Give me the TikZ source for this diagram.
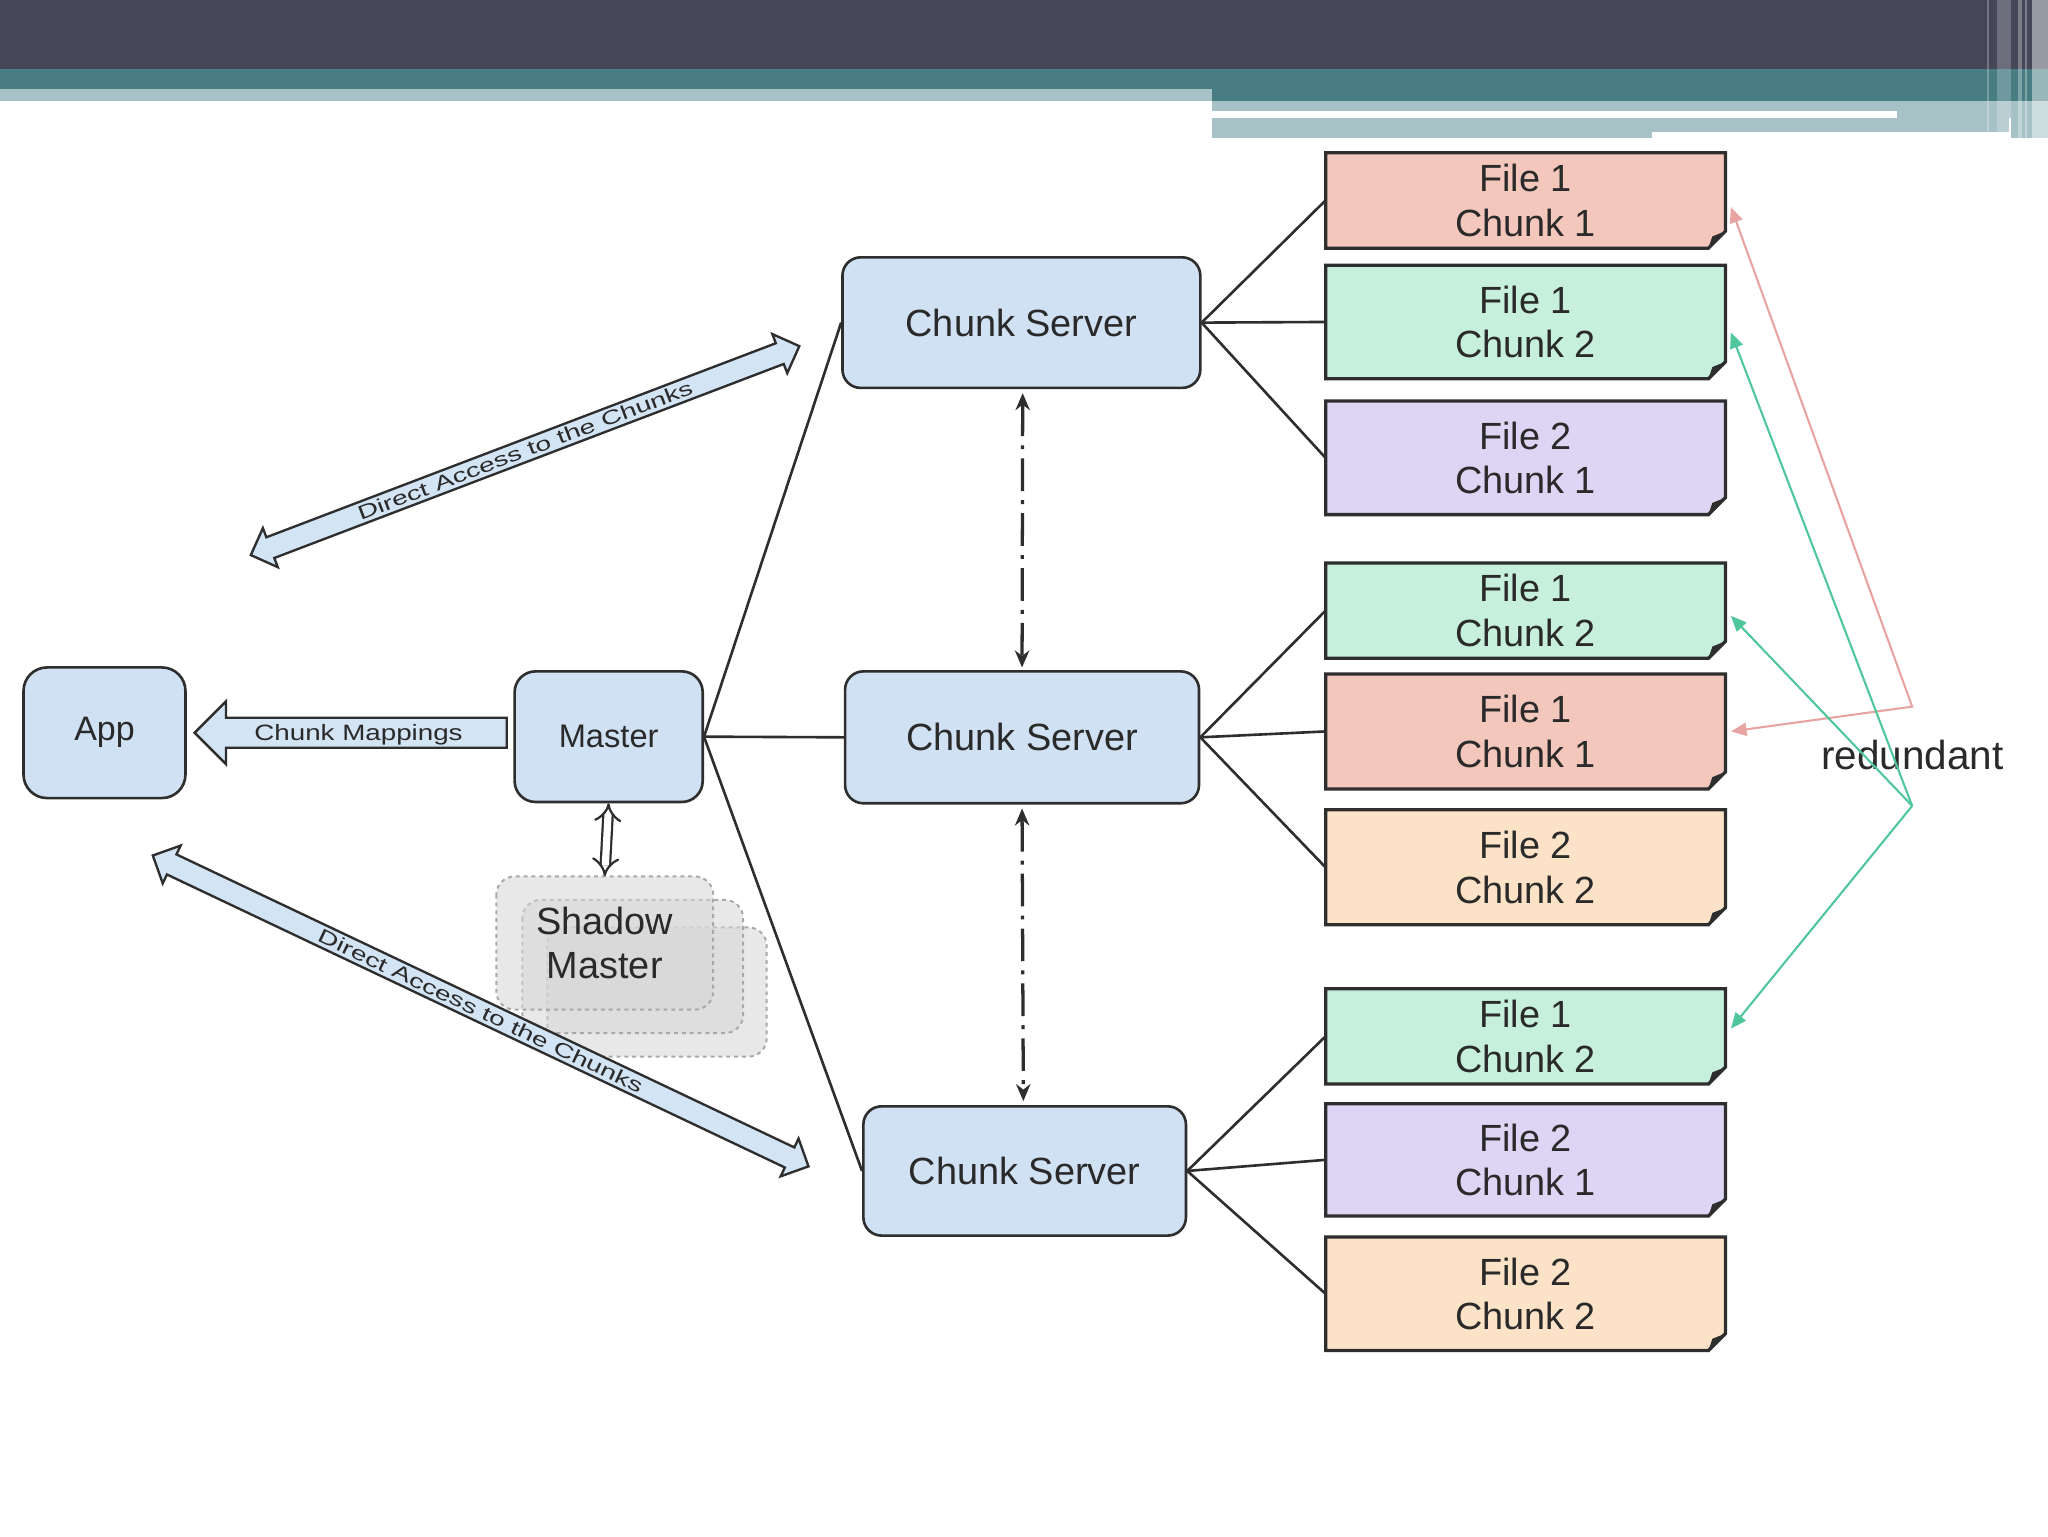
\documentclass[tikz,border=0pt]{standalone}
\usepackage{fontspec}
\setmainfont{Liberation Sans}
\newfontfamily\stretchA[FakeStretch=1.45]{Liberation Sans}
\newfontfamily\stretchB[FakeStretch=1.25]{Liberation Sans}
\usetikzlibrary{arrows.meta,calc}
\definecolor{hdark}{HTML}{454657}
\definecolor{hteal}{HTML}{477D83}
\definecolor{hlight}{HTML}{A7C2C7}
\definecolor{nfill}{HTML}{CFE1F3}
\definecolor{bord}{HTML}{2E2E2E}
\definecolor{txt}{HTML}{2A2A2A}
\definecolor{cpink}{HTML}{F4C7BC}
\definecolor{cgreen}{HTML}{C6F0DC}
\definecolor{clav}{HTML}{DDD5F3}
\definecolor{cpeach}{HTML}{FCE3C7}
\definecolor{agreen}{HTML}{4FC79B}
\definecolor{apink}{HTML}{E8A3A3}
\definecolor{afill}{HTML}{D3E4F4}
\definecolor{shfill}{HTML}{D6D6D6}
\definecolor{shdraw}{HTML}{A8A8A8}

% #1 name, #2 top y, #3 bottom y, #4 colour, #5 line 1, #6 line 2
\newcommand{\filebox}[6]{%
  \path[filebg=#4] (1015,#2) -- (1321,#2) -- (1321,{#3-13}) -- (1308,#3) -- (1015,#3) -- cycle;
  \fill[bord] (1321,{#3-13}) -- (1308,#3) -- (1311,{#3-9}) -- cycle;
  \node[filetext, minimum width=306pt, minimum height={#3-#2}] (#1) at (1168,{(#2+#3)/2}) {#5\\#6};
}
% double block arrow centred at origin, half length #1
\newcommand{\dblblock}[1]{%
  \draw[blockarrow] (-#1,0) -- ({-#1+16},-16) -- ({-#1+16},-8.5) -- ({#1-16},-8.5) -- ({#1-16},-16)
    -- (#1,0) -- ({#1-16},16) -- ({#1-16},8.5) -- ({-#1+16},8.5) -- ({-#1+16},16) -- cycle;
}

\begin{document}
\begin{tikzpicture}[x=1pt,y=-1pt,
  srv/.style={draw=bord, line width=2pt, fill=nfill, rounded corners=14pt, text=txt,
    font=\fontsize{29}{34}\selectfont, inner sep=0pt, align=center},
  conn/.style={draw=bord, line width=2pt},
  ddash/.style={draw=bord, line width=2.5pt, dash pattern=on 25pt off 7pt on 3pt off 7pt,
    {Stealth[length=13pt,width=11pt]}-{Stealth[length=13pt,width=11pt]}},
  filebg/.style={fill=#1, draw=bord, line width=2.5pt, line join=miter},
  filetext/.style={text=txt, font=\fontsize{29}{34}\selectfont, align=center, inner sep=0pt},
  blockarrow/.style={draw=bord, line width=1.8pt, fill=afill, line join=miter},
  arrowtext/.style={text=txt, inner sep=0pt, anchor=base},
  shbox/.style={draw=shdraw, dashed, line width=1.5pt, fill=shfill, fill opacity=0.55, rounded corners=14pt},
  dblarrow/.style={draw=bord, line width=1.7pt, double=white, double distance=5.5pt, {Implies}-{Implies}},
  pinkline/.style={draw=apink, line width=1.6pt, {Triangle[length=12pt,width=10pt]}-{Triangle[length=12pt,width=10pt]}},
  greenline/.style={draw=agreen, line width=1.6pt, -{Triangle[length=12pt,width=10pt]}}
]
\useasboundingbox (0,0) rectangle (1568,1176);
\fill[white] (0,0) rectangle (1568,1176);

% header bands
\fill[hdark] (0,0) rectangle (1568,53);
\fill[hteal] (0,53) rectangle (1568,68);
\fill[hlight] (0,68) rectangle (928,77);
\fill[hteal] (928,68) rectangle (1568,77);
\fill[hlight] (928,77) rectangle (1568,85);
\fill[hlight] (1452,85) rectangle (1568,90);
\fill[hlight] (928,90) rectangle (1538,101);
\fill[hlight] (928,101) rectangle (1265,106);
\fill[hlight] (1540,90) rectangle (1568,106);
\fill[white, opacity=0.25] (1521,0) rectangle (1523,106);
\fill[white, opacity=0.22] (1529,0) rectangle (1540,106);
\fill[white, opacity=0.3] (1545,0) rectangle (1548,106);
\fill[white, opacity=0.3] (1550,0) rectangle (1552,106);
\fill[white, opacity=0.45] (1556,0) rectangle (1568,106);

% main nodes
\node[srv, minimum width=124pt, minimum height=100pt, rounded corners=18pt,
      font=\fontsize{26}{30}\selectfont] (app) at (80,561) {App};
\node[srv, minimum width=144pt, minimum height=100pt, rounded corners=16pt,
      font=\fontsize{25}{30}\selectfont] (master) at (466,564) {Master};
\node[srv, minimum width=274pt, minimum height=100pt] (s1) at (782,247) {Chunk Server};
\node[srv, minimum width=271pt, minimum height=101pt] (s2) at (782.5,564.5) {Chunk Server};
\node[srv, minimum width=247pt, minimum height=99pt] (s3) at (784.5,896.5) {Chunk Server};

% shadow master stack
\path[shbox] (419,710) rectangle (587,809);
\path[shbox] (400,689) rectangle (569,791);
\path[shbox] (380,671) rectangle (546,773);
\node[text=txt, font=\fontsize{29}{34}\selectfont, align=center, inner sep=0pt,
      minimum width=166pt, minimum height=102pt] (shadow) at (463,722) {Shadow\\Master};

% file chunks
\filebox{f1}{117}{190}{cpink}{File 1}{Chunk 1}
\filebox{f2}{203}{290}{cgreen}{File 1}{Chunk 2}
\filebox{f3}{307}{394}{clav}{File 2}{Chunk 1}
\filebox{f4}{431}{504}{cgreen}{File 1}{Chunk 2}
\filebox{f5}{516}{604}{cpink}{File 1}{Chunk 1}
\filebox{f6}{620}{708}{cpeach}{File 2}{Chunk 2}
\filebox{f7}{757}{830}{cgreen}{File 1}{Chunk 2}
\filebox{f8}{845}{931}{clav}{File 2}{Chunk 1}
\filebox{f9}{947}{1034}{cpeach}{File 2}{Chunk 2}

% connectors
\draw[conn] (master.east) -- (s1.west);
\draw[conn] (master.east) -- (s2.west);
\draw[conn] (master.east) -- (s3.west);
\foreach \f in {f1,f2,f3} \draw[conn] (s1.east) -- (\f.west);
\foreach \f in {f4,f5,f6} \draw[conn] (s2.east) -- (\f.west);
\foreach \f in {f7,f8,f9} \draw[conn] (s3.east) -- (\f.west);

\draw[ddash] ($(s1.south)+(1,3)$) -- ($(s2.north)+(0,-2)$);
\draw[ddash] ($(s2.south)+(0,3)$) -- ($(s3.north)+(-1,-3)$);

\draw[dblarrow] (master.south) -- (shadow.north);

% Chunk Mappings block arrow (Master -> App)
\draw[blockarrow] ($(app.east)+(6,0)$) -- ++(24,-24) -- ++(0,12.5) -- ($(master.west)+(-5,-14.5)$)
   -- ++(0,23) -- ($(app.east)+(30,11.5)$) -- ++(0,12.5) -- cycle;
\node[arrowtext, font=\stretchB\fontsize{17}{17}\selectfont] (cm) at (274.5,567) {Chunk Mappings};

% Direct access block arrows
\begin{scope}[shift={(402,345)}, rotate=20.85]
  \dblblock{224.7}
  \node[arrowtext, transform shape, font=\stretchA\fontsize{15}{15}\selectfont] (da1) at (0,5.3) {Direct Access to the Chunks};
\end{scope}
\begin{scope}[shift={(368,774)}, rotate=-25.37]
  \dblblock{277.8}
  \node[arrowtext, transform shape, font=\stretchA\fontsize{15}{15}\selectfont] (da2) at (0,5.3) {Direct Access to the Chunks};
\end{scope}

% redundancy
\node[text=txt, font=\fontsize{31}{34}\selectfont, inner sep=0pt] (red) at (1464,578) {redundant};
\coordinate (rp) at (1464,541);
\coordinate (rg) at (1464,617);
\draw[pinkline] ($(f1.east)+(4,5)$) -- (rp) -- ($(f5.east)+(4,0)$);
\draw[greenline] (rg) -- ($(f2.east)+(4,8)$);
\draw[greenline] (rg) -- ($(f4.east)+(4,4)$);
\draw[greenline] (rg) -- ($(f7.east)+(4,-6)$);
\end{tikzpicture}
\end{document}
